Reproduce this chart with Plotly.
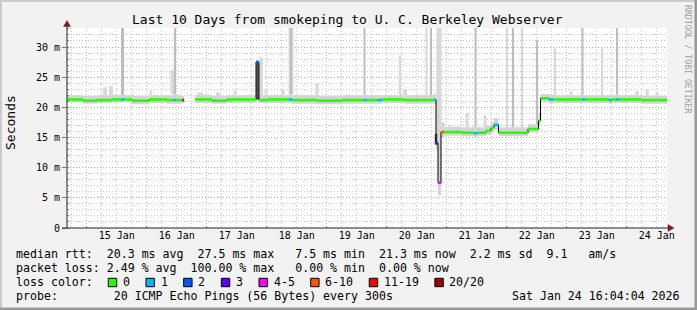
import numpy as np
import pandas as pd
import plotly.graph_objects as go

# ---------------- data ----------------
START = pd.Timestamp("2026-01-14 16:04:04")
END = pd.Timestamp("2026-01-24 16:04:04")
SPAN_H = 240.0

# median rtt as step segments: start hour (after START), median [ms], lost pings of 20
seg_hours = [0, 6.4, 12, 18, 21.6, 22.8, 26, 33, 40, 42.4,
             43.6, 46.0, 46.8, 51.2, 58, 64, 75.6, 76.8, 80, 88.8,
             90.0, 100, 110, 118.8, 120, 124.4, 126, 135, 146.8, 147.6,
             148.4, 149.6, 150.8, 158, 162.8, 164, 167.6, 169.6, 170.8, 172.6,
             184.4, 188.6, 189.4, 192.8, 194.4, 200, 206, 207.2, 216.8, 218,
             219.6, 220.8, 230]
seg_median = [21.3, 21.1, 21.2, 21.3, 21.3, 21.3, 21.1, 21.3, 21.2, 21.2,
              21.2, 21.2, None, 21.3, 21.1, 21.3, 27.5, 21.2, 21.3, 21.3,
              21.2, 21.1, 21.2, 21.2, 21.2, 21.2, 21.3, 21.2, 21.3, 14.1,
              7.5, 15.9, 15.9, 15.8, 15.7, 15.8, 16.1, 16.6, 17.1, 15.8,
              16.4, 17.8, 21.5, 21.3, 21.3, 21.3, 21.3, 21.3, 21.2, 21.3,
              21.3, 21.3, 21.2]
seg_loss = [0, 0, 0, 0, 1, 0, 0, 0, 0, 1,
            0, 12, None, 0, 0, 0, 2, 0, 0, 1,
            0, 0, 0, 1, 0, 1, 0, 0, 1, 3,
            5, 8, 0, 0, 1, 0, 0, 0, 1, 0,
            0, 0, 0, 1, 0, 0, 1, 0, 1, 0,
            1, 0, 0]
# smoke band (spread of the 20 pings) per segment
seg_smoke_lo = [20.8, 20.6, 20.7, 20.8, 20.8, 20.8, 20.5, 20.7, 20.6, 20.6,
                20.6, 20.7, None, 20.7, 20.6, 20.7, 21.0, 20.7, 20.7, 20.7,
                20.6, 20.5, 20.6, 20.6, 20.6, 20.6, 20.7, 20.6, 20.6, 13.0,
                5.4, 15.0, 15.3, 15.2, 15.0, 15.2, 15.4, 15.8, 16.2, 15.2,
                15.8, 17.0, 20.8, 20.6, 20.7, 20.7, 20.7, 20.7, 20.6, 20.7,
                20.7, 20.7, 20.6]
seg_smoke_hi = [22.0, 21.9, 22.0, 22.1, 22.1, 22.0, 21.9, 22.0, 22.0, 22.2,
                22.0, 21.9, None, 22.1, 21.9, 22.0, 27.8, 22.0, 22.0, 22.2,
                22.0, 21.9, 22.0, 22.1, 22.0, 22.0, 22.0, 22.0, 22.2, 21.5,
                16.5, 17.5, 16.8, 16.7, 16.8, 16.7, 17.0, 17.6, 18.2, 16.7,
                17.2, 19.0, 22.2, 22.1, 22.0, 22.0, 22.1, 22.0, 22.1, 22.0,
                22.1, 22.0, 21.9]

# single slow pings (smoke spikes): hour, top [ms], width [h], shade
spike_hours = [22.2, 43.2, 89.6, 89.6, 119.0, 143.8, 145.6, 148.8, 163.4, 176.0,
               178.4, 182.0, 188.0, 195.2, 206.2, 214.0, 220.0,
               42.4, 77.8, 133.2, 15.2, 17.6, 26.0, 33.6, 53.2, 60.4,
               67.2, 72.8, 79.6, 86.4, 93.6, 100.0, 135.2, 160.0, 167.2,
               201.6, 228.0, 232.0, 236.0, 76.2, 147.6]
spike_top = [40, 40, 40, 40, 40, 40, 40, 40, 40, 40,
             40, 40, 31.2, 29.8, 40, 29.8, 40,
             26.2, 28.2, 28.5, 23.3, 23.5, 22.2, 22.8, 22.5, 22.5,
             22.8, 22.1, 23.0, 23.0, 21.9, 24.0, 23.0, 19.1, 18.7,
             22.7, 22.7, 23.0, 22.5, 27.5, 15.6]
spike_width = [1.2, 0.6, 2.0, 0.6, 0.8, 0.8, 0.8, 2.0, 0.8, 0.8,
               0.8, 0.8, 0.8, 0.8, 0.8, 0.8, 0.8,
               2.0, 1.2, 0.8, 1.6, 1.6, 0.8, 1.2, 2.0, 1.6,
               1.2, 1.2, 1.2, 1.2, 1.2, 1.2, 1.6, 1.2, 1.2,
               1.2, 1.2, 1.2, 1.2, 1.0, 1.0]
spike_shade = ["mid", "mid", "light", "mid", "mid", "light", "mid", "light", "mid", "light",
               "mid", "light", "mid", "light", "mid", "light", "mid",
               "light", "light", "light", "light", "light", "light", "light", "light", "light",
               "light", "light", "light", "light", "light", "light", "light", "light", "light",
               "light", "light", "light", "light", "dark", "dark"]

loss_labels = ["0", "1", "2", "3", "4-5", "6-10", "11-19", "20/20"]
loss_colors = ["#26ff00", "#00b8ff", "#0059ff", "#5e00ff", "#ff00ff", "#ff5500", "#ff0000", "#a10000"]

legend_rtt = "median rtt:  20.3 ms avg  27.5 ms max   7.5 ms min  21.3 ms now  2.2 ms sd  9.1   am/s"
legend_loss = "packet loss: 2.49 % avg  100.00 % max   0.00 % min  0.00 % now"
legend_probe = "probe:        20 ICMP Echo Pings (56 Bytes) every 300s"
legend_date = "Sat Jan 24 16:04:04 2026"
title_text = "Last 10 Days from smokeping to U. C. Berkeley Webserver"

y_tickvals = [0, 5, 10, 15, 20, 25, 30]
y_ticktext = ["0", "5 m", "10 m", "15 m", "20 m", "25 m", "30 m"]

# ---------------- helpers ----------------
FIG_W, FIG_H = 697, 310
L, T, W, H = 67, 28, 600, 200
MONO = "DejaVu Sans Mono"
GRID = "rgba(150,150,150,0.5)"
MGRID = "rgba(222,80,80,0.38)"


def px(x):
    return (x - L) / W


def py(y):
    return 1 - (y - T) / H


def at(h):
    return START + pd.to_timedelta(h, unit="h")


def loss_class(n):
    if n <= 3:
        return n
    if n <= 5:
        return 4
    if n <= 10:
        return 5
    if n <= 19:
        return 6
    return 7


def nb(s):
    return s.replace(" ", "\u00a0")


ends = seg_hours[1:] + [SPAN_H]
HOUR_MS = 3600 * 1000

fig = go.Figure()

# smoke band
bx, bbase, bh, bw = [], [], [], []
for s, e, lo, hi in zip(seg_hours, ends, seg_smoke_lo, seg_smoke_hi):
    if lo is None:
        continue
    bx.append(at((s + e) / 2))
    bbase.append(lo)
    bh.append(hi - lo)
    bw.append((e - s) * HOUR_MS)
fig.add_trace(go.Bar(x=bx, y=bh, base=bbase, width=bw, marker_color="#d4d4d4",
                     marker_line_width=0, showlegend=False, hoverinfo="skip"))


def band_top(h):
    for s, e, hi in zip(seg_hours, ends, seg_smoke_hi):
        if s <= h < e and hi is not None:
            return hi
    return 21.5


shade_col = {"light": "#d8d8d8", "mid": "#bdbdbd", "dark": "#505050"}
for shade in ["light", "mid", "dark"]:
    sx, sb, sh, sw = [], [], [], []
    for h, top, wd, sd in zip(spike_hours, spike_top, spike_width, spike_shade):
        if sd != shade:
            continue
        if shade == "dark":
            base = 21.3 if top > 21 else 13.8
        else:
            base = min(band_top(h), top - 0.5)
        sx.append(at(h))
        sb.append(base)
        sh.append(top - base)
        sw.append(wd * HOUR_MS)
    fig.add_trace(go.Bar(x=sx, y=sh, base=sb, width=sw, marker_color=shade_col[shade],
                         marker_line_width=0, showlegend=False, hoverinfo="skip"))

# black median step line
mx = [at(h) for h in seg_hours] + [at(SPAN_H)]
my = list(seg_median) + [seg_median[-1]]
fig.add_trace(go.Scatter(x=mx, y=my, mode="lines", line=dict(color="#000000", width=1, shape="hv"),
                         connectgaps=False, showlegend=False, hoverinfo="skip"))

# loss-coloured median segments
for ci, col in enumerate(loss_colors):
    xs, ys = [], []
    for s, e, v, n in zip(seg_hours, ends, seg_median, seg_loss):
        if v is None or loss_class(n) != ci:
            continue
        xs += [at(s), at(e), None]
        ys += [v, v, None]
    if xs:
        fig.add_trace(go.Scatter(x=xs, y=ys, mode="lines", line=dict(color=col, width=2.6),
                                 showlegend=False, hoverinfo="skip"))

annotations = []
shapes = []

annotations.append(dict(text=title_text, x=px(347.5), y=py(19), xref="paper", yref="paper",
                        xanchor="center", yanchor="middle", showarrow=False,
                        font=dict(family=MONO, size=13, color="#000")))
annotations.append(dict(text="Seconds", x=px(10.5), y=py(122.5), xref="paper", yref="paper",
                        xanchor="center", yanchor="middle", showarrow=False, textangle=-90,
                        font=dict(family=MONO, size=13, color="#000")))
annotations.append(dict(text=nb("RRDTOOL / TOBI OETIKER"), x=px(688), y=py(59), xref="paper",
                        yref="paper", xanchor="center", yanchor="middle", showarrow=False,
                        textangle=90, font=dict(family=MONO, size=8.2, color="#a0a0a0")))

LEG = 11.6
for txt, yy in [(legend_rtt, 254), (legend_loss, 268.3), ("loss color:", 282.3), (legend_probe, 295.7)]:
    annotations.append(dict(text=nb(txt), x=px(14.3), y=py(yy), xref="paper", yref="paper",
                            xanchor="left", yanchor="middle", showarrow=False,
                            font=dict(family=MONO, size=LEG, color="#000")))
annotations.append(dict(text=nb(legend_date), x=px(682), y=py(295.7), xref="paper", yref="paper",
                        xanchor="right", yanchor="middle", showarrow=False,
                        font=dict(family=MONO, size=LEG, color="#000")))

CH = 6.98
sq = 108.3
for lab, col in zip(loss_labels, loss_colors):
    shapes.append(dict(type="rect", xref="paper", yref="paper", x0=px(sq), x1=px(sq + 8.4),
                       y0=py(286.7), y1=py(278.3), fillcolor=col, line=dict(color="#000", width=1)))
    lx = sq + 14.3
    annotations.append(dict(text=lab, x=px(lx - 1.7), y=py(282.3), xref="paper", yref="paper",
                            xanchor="left", yanchor="middle", showarrow=False,
                            font=dict(family=MONO, size=LEG, color="#000")))
    sq = lx + len(lab) * CH + 16.4

# axis arrows and axis lines
shapes.append(dict(type="path", xref="paper", yref="paper",
                   path=f"M {px(63.5)} {py(26.5)} L {px(70.5)} {py(26.5)} L {px(67)} {py(20.5)} Z",
                   fillcolor="#8b1a1a", line=dict(color="#8b1a1a", width=0.5)))
shapes.append(dict(type="path", xref="paper", yref="paper",
                   path=f"M {px(668)} {py(224.5)} L {px(668)} {py(231.5)} L {px(674)} {py(228)} Z",
                   fillcolor="#8b1a1a", line=dict(color="#8b1a1a", width=0.5)))
shapes.append(dict(type="line", xref="paper", yref="paper", x0=px(67), x1=px(67), y0=py(228), y1=py(25),
                   line=dict(color="#202020", width=1)))
shapes.append(dict(type="line", xref="paper", yref="paper", x0=px(62), x1=px(669), y0=py(228), y1=py(228),
                   line=dict(color="#202020", width=1)))
# 3D frame of the image
shapes.append(dict(type="line", xref="paper", yref="paper", x0=px(0), x1=px(697), y0=py(1), y1=py(1),
                   line=dict(color="#cbcbcb", width=2)))
shapes.append(dict(type="line", xref="paper", yref="paper", x0=px(1), x1=px(1), y0=py(0), y1=py(310),
                   line=dict(color="#cbcbcb", width=2)))
shapes.append(dict(type="line", xref="paper", yref="paper", x0=px(0), x1=px(697), y0=py(308.7), y1=py(308.7),
                   line=dict(color="#999999", width=2.6)))
shapes.append(dict(type="line", xref="paper", yref="paper", x0=px(695.7), x1=px(695.7), y0=py(0), y1=py(310),
                   line=dict(color="#999999", width=2.6)))

fig.update_layout(
    width=FIG_W, height=FIG_H,
    margin=dict(l=L, r=FIG_W - L - W, t=T, b=FIG_H - T - H, pad=0),
    paper_bgcolor="#f2f2f2", plot_bgcolor="#ffffff",
    barmode="overlay", showlegend=False,
    annotations=annotations, shapes=shapes,
    xaxis=dict(type="date", range=[START, END], tick0="2026-01-15", dtick=86400000,
               ticklabelmode="period", tickformat="%d %b",
               showgrid=True, gridcolor=MGRID, griddash="1px,2px", gridwidth=1,
               ticks="inside", ticklen=2, tickcolor="#de5050",
               showline=False, zeroline=False,
               tickfont=dict(family=MONO, size=10, color="#000"),
               minor=dict(dtick=6 * HOUR_MS, tick0="2026-01-15", showgrid=True,
                          gridcolor=GRID, griddash="1px,2px", gridwidth=1, ticks="")),
    yaxis=dict(range=[0, 33.15], tickmode="array", tickvals=y_tickvals, ticktext=y_ticktext,
               showgrid=True, gridcolor=MGRID, griddash="1px,2px", gridwidth=1,
               ticks="outside", ticklen=4, tickcolor="#de5050",
               showline=False, zeroline=False,
               tickfont=dict(family=MONO, size=10, color="#000"),
               minor=dict(dtick=1, showgrid=True, gridcolor=GRID, griddash="1px,2px",
                          gridwidth=1, ticks="inside", ticklen=2, tickcolor="#909090")),
)

fig.write_html("out.html")
